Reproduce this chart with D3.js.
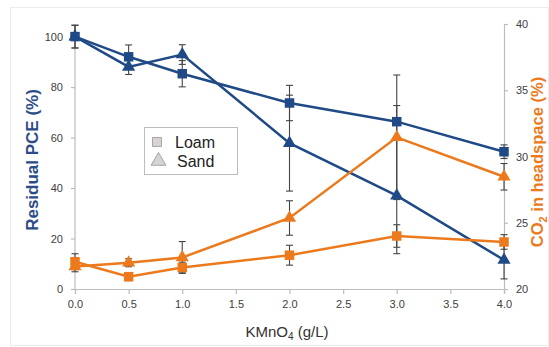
<!DOCTYPE html>
<html>
<head>
<meta charset="utf-8">
<script src="https://cdnjs.cloudflare.com/ajax/libs/d3/7.8.5/d3.min.js"></script>
<style>
  body { margin: 0; background: #fff; }
  svg { font-family: "Liberation Sans", Arial, sans-serif; }
</style>
</head>
<body>
<script>
// KMnO4 dose (g/L)
var doses = [0, 0.5, 1, 2, 3, 4];

// residual PCE (%), left axis
var loamPCE = [100, 92, 85.3, 73.7, 66.3, 54.4];
var loamPCEErr = [4.5, 4.7, 5.2, 7, 6.4, 2.7];
var sandPCE = [100, 88, 92.9, 57.8, 37, 11.5];
var sandPCEErr = [4.5, 3, 3.9, 19, 23, 7.5];

// CO2 in headspace (%), right axis
var loamCO2 = [22.06, 20.93, 21.62, 22.55, 24.0, 23.55];
var loamCO2Err = [0.6, 0.3, 0.4, 0.75, 0.85, 0.55];
var sandCO2 = [21.7, 21.98, 22.38, 25.36, 31.45, 28.47];
var sandCO2Err = [0.4, 0.3, 1.2, 1.3, 4.7, 1.0];

var xTicks = [0, 0.5, 1, 1.5, 2, 2.5, 3, 3.5, 4];
var leftTicks = [0, 20, 40, 60, 80, 100];
var rightTicks = [20, 25, 30, 35, 40];

var width = 549, height = 347;
var blue = "#1f4a86", orange = "#ec7a1c";

var svg = d3.select("body").append("svg")
    .attr("width", width)
    .attr("height", height);

// faint outer frame
svg.append("rect")
    .attr("x", 10.5).attr("y", 7.5)
    .attr("width", 538).attr("height", 338)
    .attr("fill", "none").attr("stroke", "#ececec");

var x = d3.scaleLinear().domain([0, 4]).range([75, 504]);
var yL = d3.scaleLinear().domain([0, 105]).range([289, 24]);
var yR = d3.scaleLinear().domain([20, 40]).range([289, 24]);

// axes
var xAxis = svg.append("g")
    .attr("transform", "translate(0,289)")
    .call(d3.axisBottom(x).tickValues(xTicks).tickFormat(d3.format(".1f")).tickSize(5).tickPadding(6));
var lAxis = svg.append("g")
    .attr("transform", "translate(75,0)")
    .call(d3.axisLeft(yL).tickValues(leftTicks).tickSize(4).tickPadding(8).tickSizeOuter(0));
var rAxis = svg.append("g")
    .attr("transform", "translate(504,0)")
    .call(d3.axisRight(yR).tickValues(rightTicks).tickSize(4).tickPadding(8).tickSizeOuter(0));

[xAxis, lAxis, rAxis].forEach(function(g) {
  g.select(".domain").attr("stroke", "#bdbdbd").attr("stroke-width", 1.2);
  g.selectAll(".tick line").attr("stroke", "#bdbdbd").attr("stroke-width", 1.2);
  g.selectAll(".tick text").attr("fill", "#404040").style("font-size", "11px");
});
// keep the left axis line running to the top of the plot
lAxis.select(".domain").attr("d", "M0," + yL(105) + "V" + yL(0));

// axis titles
svg.append("text")
    .attr("transform", "translate(38,160) rotate(-90)")
    .attr("text-anchor", "middle")
    .attr("fill", "#2b4c86")
    .style("font-size", "17px").style("font-weight", "bold")
    .text("Residual PCE (%)");

var rt = svg.append("text")
    .attr("transform", "translate(543,162) rotate(-90)")
    .attr("text-anchor", "middle")
    .attr("fill", orange)
    .style("font-size", "16.5px").style("font-weight", "bold");
rt.append("tspan").text("CO");
rt.append("tspan").attr("dy", 4).style("font-size", "11px").text("2");
rt.append("tspan").attr("dy", -4).text(" in headspace (%)");

var xt = svg.append("text")
    .attr("x", 287).attr("y", 337)
    .attr("text-anchor", "middle")
    .attr("fill", "#333")
    .style("font-size", "15px");
xt.append("tspan").text("KMnO");
xt.append("tspan").attr("dy", 3).style("font-size", "10px").text("4");
xt.append("tspan").attr("dy", -3).text(" (g/L)");

// series
var series = [
  { vals: loamPCE, err: loamPCEErr, y: yL, color: blue, shape: "square" },
  { vals: sandPCE, err: sandPCEErr, y: yL, color: blue, shape: "triangle" },
  { vals: loamCO2, err: loamCO2Err, y: yR, color: orange, shape: "square" },
  { vals: sandCO2, err: sandCO2Err, y: yR, color: orange, shape: "triangle" }
];

function pts(s) {
  return doses.map(function(d, i) { return { x: d, v: s.vals[i], e: s.err[i] }; });
}

var sym = {
  square: d3.symbol().type(d3.symbolSquare).size(90),
  triangle: d3.symbol().type(d3.symbolTriangle).size(75)
};

series.forEach(function(s) {
  var line = d3.line().x(function(p) { return x(p.x); }).y(function(p) { return s.y(p.v); });
  svg.append("path")
      .datum(pts(s))
      .attr("d", line)
      .attr("fill", "none")
      .attr("stroke", s.color)
      .attr("stroke-width", 2.5);
});

series.forEach(function(s) {
  var g = svg.append("g").attr("stroke", "#444").attr("stroke-width", 1.1);
  pts(s).forEach(function(p) {
    var cx = x(p.x), y1 = s.y(p.v + p.e), y2 = s.y(p.v - p.e);
    g.append("line").attr("x1", cx).attr("x2", cx).attr("y1", y1).attr("y2", y2);
    g.append("line").attr("x1", cx - 3.5).attr("x2", cx + 3.5).attr("y1", y1).attr("y2", y1);
    g.append("line").attr("x1", cx - 3.5).attr("x2", cx + 3.5).attr("y1", y2).attr("y2", y2);
  });
});

series.forEach(function(s) {
  svg.selectAll(null)
      .data(pts(s))
      .enter().append("path")
      .attr("d", sym[s.shape])
      .attr("transform", function(p) { return "translate(" + x(p.x) + "," + s.y(p.v) + ")"; })
      .attr("fill", s.color);
});

// legend
var leg = svg.append("g");
leg.append("rect")
    .attr("x", 144.5).attr("y", 127.5)
    .attr("width", 93).attr("height", 47)
    .attr("fill", "#fff").attr("stroke", "#bdbdbd");
leg.append("path").attr("d", sym.square.size(80)())
    .attr("transform", "translate(157,142)")
    .attr("fill", "#d8d3d3").attr("stroke", "#a8a4a4");
leg.append("path").attr("d", d3.symbol().type(d3.symbolTriangle).size(95)())
    .attr("transform", "translate(158.5,161)")
    .attr("fill", "#d8d3d3").attr("stroke", "#a8a4a4");
leg.append("text").attr("x", 175).attr("y", 148)
    .attr("fill", "#222").style("font-size", "16px").text("Loam");
leg.append("text").attr("x", 177).attr("y", 167)
    .attr("fill", "#222").style("font-size", "16px").text("Sand");
</script>
</body>
</html>
